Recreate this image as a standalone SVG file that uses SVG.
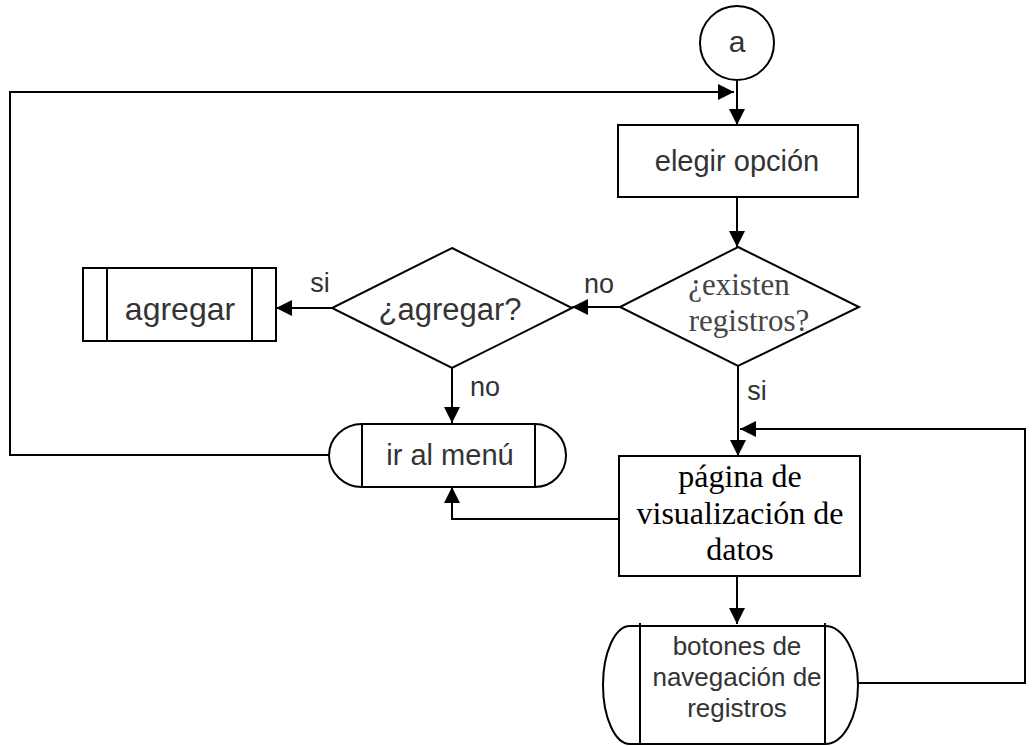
<svg xmlns="http://www.w3.org/2000/svg" width="1036" height="746" viewBox="0 0 1036 746">
  <style>
    .shape { fill: #ffffff; stroke: #000000; stroke-width: 2; }
    .line { fill: none; stroke: #000000; stroke-width: 2; }
    .sans { font-family: "Liberation Sans", Arial, sans-serif; fill: #333333; text-anchor: middle; }
    .serif { font-family: "Liberation Serif", "Times New Roman", serif; text-anchor: middle; }
  </style>
  <defs>
    <marker id="arrow" markerUnits="userSpaceOnUse" markerWidth="16" markerHeight="16" viewBox="0 0 16 16" refX="16" refY="8" orient="auto">
      <path d="M0,0 L16,8 L0,16 Z" fill="#000000"/>
    </marker>
  </defs>

  <rect width="1036" height="746" fill="#ffffff"/>

  <!-- connectors -->
  <g id="connectors">
    <!-- connector a -> elegir opción -->
    <path class="line" d="M737,80 V125" marker-end="url(#arrow)"/>
    <!-- return from ir al menú back to the top -->
    <path class="line" d="M329,455 H10 V92 H734" marker-end="url(#arrow)"/>
    <!-- elegir opción -> ¿existen registros? -->
    <path class="line" d="M737,197 V247" marker-end="url(#arrow)"/>
    <!-- ¿existen registros? no -> ¿agregar? -->
    <path class="line" d="M620,307 H572" marker-end="url(#arrow)"/>
    <!-- ¿agregar? si -> agregar -->
    <path class="line" d="M332,308 H276" marker-end="url(#arrow)"/>
    <!-- ¿agregar? no -> ir al menú -->
    <path class="line" d="M452,368 V423" marker-end="url(#arrow)"/>
    <!-- ¿existen registros? si -> página -->
    <path class="line" d="M738,366 V456" marker-end="url(#arrow)"/>
    <!-- página -> ir al menú -->
    <path class="line" d="M619,519 H452 V487" marker-end="url(#arrow)"/>
    <!-- página -> botones -->
    <path class="line" d="M737,576 V624" marker-end="url(#arrow)"/>
    <!-- botones loop back to página -->
    <path class="line" d="M858,683 H1025 V429 H740" marker-end="url(#arrow)"/>

    <text class="sans" x="320" y="292" font-size="27">si</text>
    <text class="sans" x="599" y="293" font-size="27">no</text>
    <text class="sans" x="485" y="396" font-size="27">no</text>
    <text class="sans" x="757" y="400" font-size="27">si</text>
  </g>

  <!-- connector circle a -->
  <g id="node-a">
    <circle class="shape" cx="737" cy="43" r="37"/>
    <text class="sans" x="737" y="52" font-size="30">a</text>
  </g>

  <!-- elegir opción -->
  <g id="node-elegir">
    <rect class="shape" x="618" y="125" width="240" height="72"/>
    <text class="sans" x="737" y="171" font-size="29">elegir opción</text>
  </g>

  <!-- ¿existen registros? -->
  <g id="node-existen">
    <polygon class="shape" points="738,247 859,307 738,366 620,307"/>
    <text class="serif" x="739" y="295" font-size="31" fill="#444444">¿existen</text>
    <text class="serif" x="749" y="331" font-size="31" fill="#444444">registros?</text>
  </g>

  <!-- ¿agregar? -->
  <g id="node-agregar-decision">
    <polygon class="shape" points="452,248 572,308 452,368 332,308"/>
    <text class="sans" x="450" y="320" font-size="31">¿agregar?</text>
  </g>

  <!-- agregar (predefined process) -->
  <g id="node-agregar">
    <rect class="shape" x="83" y="268" width="193" height="73"/>
    <line class="line" x1="107" y1="268" x2="107" y2="341"/>
    <line class="line" x1="252" y1="268" x2="252" y2="341"/>
    <text class="sans" x="180" y="320" font-size="32">agregar</text>
  </g>

  <!-- ir al menú -->
  <g id="node-menu">
    <path class="shape" d="M362,424 H535 A31,31.5 0 0 1 535,487 H362 A33,31.5 0 0 1 362,424 Z"/>
    <line class="line" x1="362" y1="424" x2="362" y2="487"/>
    <line class="line" x1="535" y1="424" x2="535" y2="487"/>
    <text class="sans" x="450" y="465" font-size="29">ir al menú</text>
  </g>

  <!-- página de visualización de datos -->
  <g id="node-pagina">
    <rect class="shape" x="619" y="456" width="241" height="120"/>
    <text class="serif" x="740" y="487" font-size="32" fill="#000000">página de</text>
    <text class="serif" x="740" y="524" font-size="32" fill="#000000">visualización de</text>
    <text class="serif" x="740" y="560" font-size="32" fill="#000000">datos</text>
  </g>

  <!-- botones de navegación de registros -->
  <g id="node-botones">
    <path class="shape" d="M630,626 H825 A33,59 0 0 1 825,744 H630 A27,59 0 0 1 630,626 Z"/>
    <line class="line" x1="640" y1="623" x2="640" y2="744"/>
    <line class="line" x1="825" y1="623" x2="825" y2="744"/>
    <text class="sans" x="737" y="655" font-size="26" fill="#111111">botones de</text>
    <text class="sans" x="737" y="686" font-size="26" fill="#111111">navegación de</text>
    <text class="sans" x="737" y="717" font-size="26" fill="#111111">registros</text>
  </g>
</svg>
